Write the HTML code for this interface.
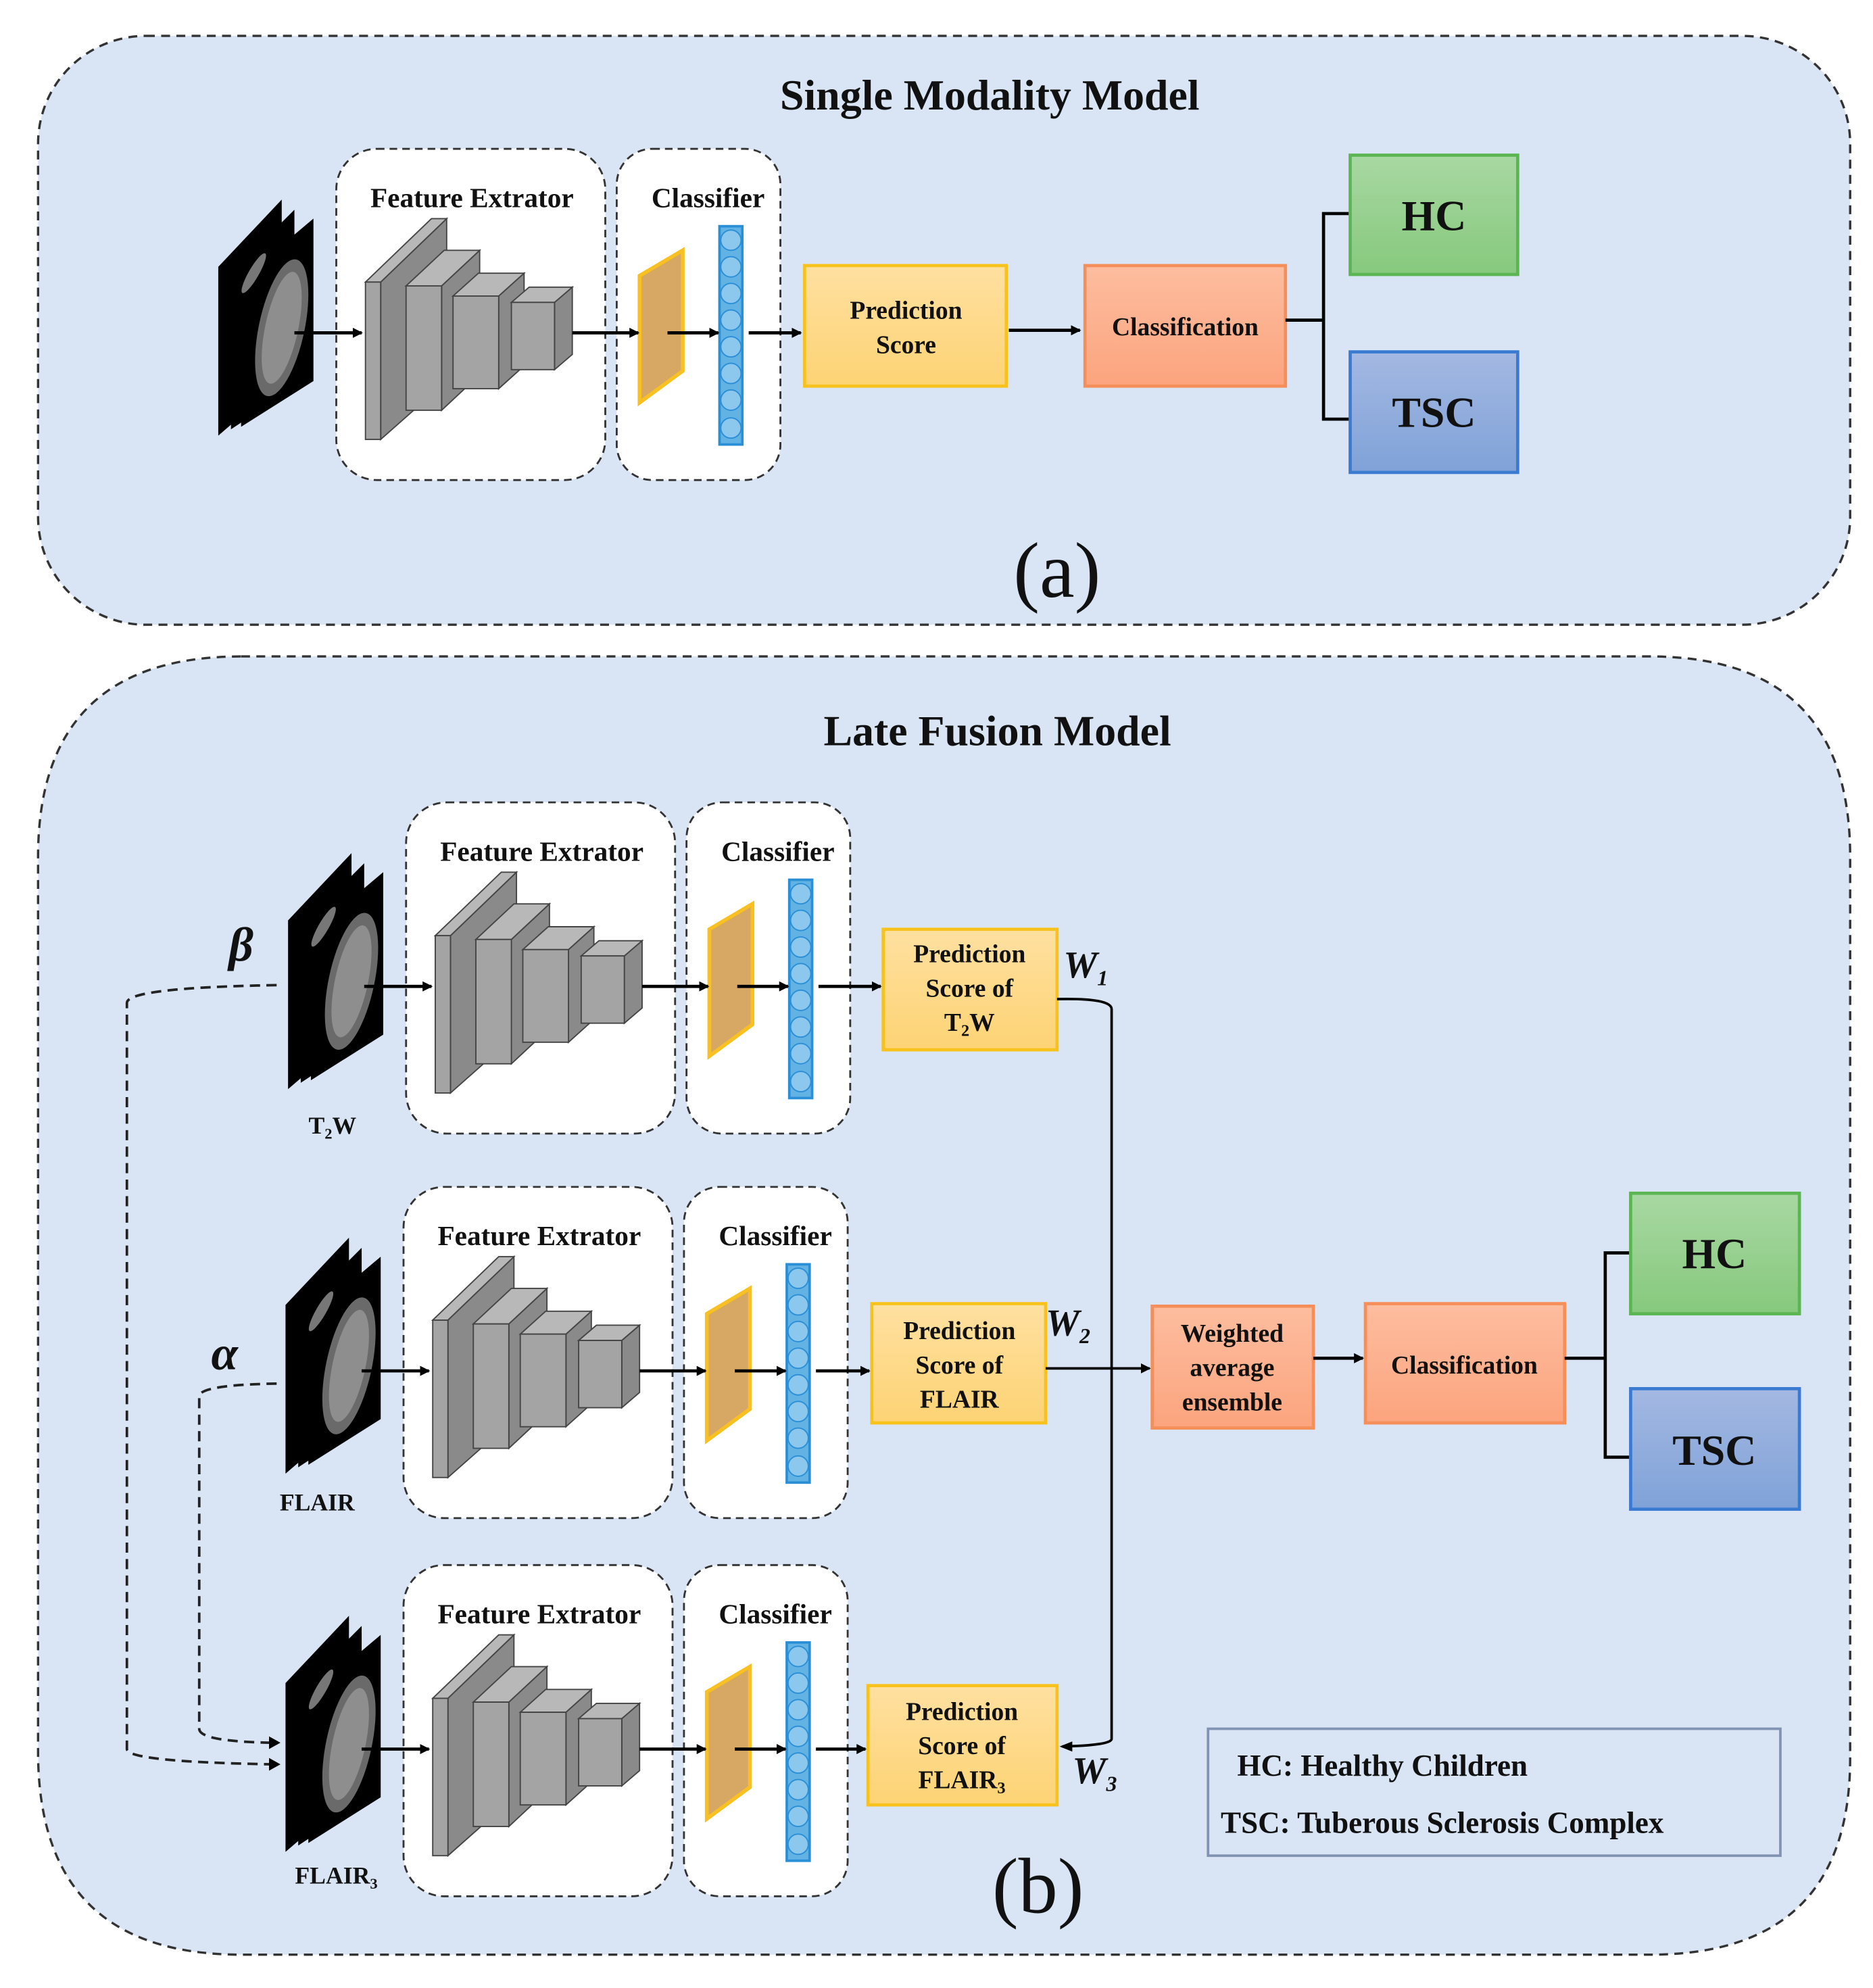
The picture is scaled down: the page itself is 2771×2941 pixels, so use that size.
<!DOCTYPE html>
<html><head><meta charset="utf-8"><style>
html,body{margin:0;padding:0;background:#fff;}
svg{display:block;}
text{font-family:"Liberation Serif",serif;font-weight:bold;fill:#111;}
</style></head><body>
<svg width="2771" height="2941" viewBox="0 0 1476 1566" xmlns="http://www.w3.org/2000/svg">
<defs>
<marker id="ah" markerWidth="8" markerHeight="8" refX="7" refY="4" orient="auto" markerUnits="userSpaceOnUse"><path d="M0,0 L8,4 L0,8 Z" fill="#000"/></marker>
<linearGradient id="gy" x1="0" y1="0" x2="0" y2="1"><stop offset="0" stop-color="#fee0a0"/><stop offset="1" stop-color="#fdd374"/></linearGradient>
<linearGradient id="go" x1="0" y1="0" x2="0" y2="1"><stop offset="0" stop-color="#fdbd9f"/><stop offset="1" stop-color="#fca47e"/></linearGradient>
<linearGradient id="gg" x1="0" y1="0" x2="0" y2="1"><stop offset="0" stop-color="#a8d8a2"/><stop offset="1" stop-color="#86c97d"/></linearGradient>
<linearGradient id="gb" x1="0" y1="0" x2="0" y2="1"><stop offset="0" stop-color="#a4b8e2"/><stop offset="1" stop-color="#7fa2d8"/></linearGradient>
<g id="row">
  <!-- MRI stack -->
  <polygon points="172,210 222,157 222,300 172,343" fill="#000"/>
  <polygon points="182,215 232,165 232,305 182,338" fill="#000"/>
  <polygon points="190,220 247,172 247,300 190,336" fill="#000"/>
  <ellipse cx="222" cy="258" rx="18" ry="55" fill="#6a6a6a" transform="rotate(12 222 258)"/>
  <ellipse cx="222" cy="258" rx="13" ry="45" fill="#8e8e8e" transform="rotate(12 222 258)"/>
  <ellipse cx="200" cy="215" rx="4" ry="18" fill="#777" transform="rotate(30 200 215)"/>
  <!-- FE box -->
  <rect x="265" y="117" width="212" height="261" rx="32" fill="#fff" stroke="#333" stroke-width="1.5" stroke-dasharray="6,4"/>
  <text x="372" y="163" font-size="22" text-anchor="middle">Feature Extrator</text>
  <!-- CNN -->
  <g stroke="#444" stroke-width="1">
   <polygon points="300,222 352,172 352,300 300,346" fill="#8a8a8a"/>
   <polygon points="288,222 340,172 352,172 300,222" fill="#b8b8b8"/>
   <rect x="288" y="222" width="12" height="124" fill="#a4a4a4"/>
   <polygon points="348,225 378,197 378,295 348,323" fill="#8a8a8a"/>
   <polygon points="320,225 350,197 378,197 348,225" fill="#b8b8b8"/>
   <rect x="320" y="225" width="28" height="98" fill="#a4a4a4"/>
   <polygon points="393,233 413,215 413,288 393,306" fill="#8a8a8a"/>
   <polygon points="357,233 377,215 413,215 393,233" fill="#b8b8b8"/>
   <rect x="357" y="233" width="36" height="73" fill="#a4a4a4"/>
   <polygon points="437,238 451,226 451,279 437,291" fill="#8a8a8a"/>
   <polygon points="403,238 417,226 451,226 437,238" fill="#b8b8b8"/>
   <rect x="403" y="238" width="34" height="53" fill="#a4a4a4"/>
  </g>
  <!-- Classifier box -->
  <rect x="486" y="117" width="129" height="261" rx="28" fill="#fff" stroke="#333" stroke-width="1.5" stroke-dasharray="6,4"/>
  <text x="558" y="163" font-size="22" text-anchor="middle">Classifier</text>
  <polygon points="504,217 538,197 538,292 504,317" fill="#d6a863" stroke="#f8c020" stroke-width="3"/>
  <rect x="567" y="178" width="18" height="172" fill="#62b2e4" stroke="#2a8fd6" stroke-width="2"/>
  <g fill="#8cc8ee" stroke="#2a8fd6" stroke-width="1">
   <circle cx="576" cy="189" r="8"/><circle cx="576" cy="210" r="8"/><circle cx="576" cy="231" r="8"/><circle cx="576" cy="252" r="8"/><circle cx="576" cy="273" r="8"/><circle cx="576" cy="294" r="8"/><circle cx="576" cy="315" r="8"/><circle cx="576" cy="337" r="8"/>
  </g>
  <g stroke="#000" stroke-width="2.5" marker-end="url(#ah)">
   <line x1="232" y1="262" x2="285" y2="262"/>
   <line x1="451" y1="262" x2="503" y2="262"/>
   <line x1="526" y1="262" x2="566" y2="262"/>
  </g>
</g>
</defs>

<!-- Panel a -->
<rect x="30" y="28" width="1428" height="464" rx="85" fill="#d9e5f4" stroke="#333" stroke-width="1.8" stroke-dasharray="7,5"/>
<text x="780" y="86" font-size="34" text-anchor="middle">Single Modality Model</text>
<use href="#row"/>
<line x1="590" y1="262" x2="631" y2="262" stroke="#000" stroke-width="2.5" marker-end="url(#ah)"/>
<rect x="634" y="209" width="159" height="95" fill="url(#gy)" stroke="#f8c21c" stroke-width="2.5"/>
<text x="714" y="251" font-size="20" text-anchor="middle">Prediction</text>
<text x="714" y="278" font-size="20" text-anchor="middle">Score</text>
<line x1="795" y1="260" x2="851" y2="260" stroke="#000" stroke-width="2.5" marker-end="url(#ah)"/>
<rect x="855" y="209" width="158" height="95" fill="url(#go)" stroke="#f58e58" stroke-width="2.5"/>
<text x="934" y="264" font-size="20" text-anchor="middle">Classification</text>
<polyline points="1013,252 1043,252" fill="none" stroke="#000" stroke-width="2.5"/>
<polyline points="1064,168 1043,168 1043,330 1064,330" fill="none" stroke="#000" stroke-width="2.5"/>
<rect x="1064" y="122" width="132" height="94" fill="url(#gg)" stroke="#5bb553" stroke-width="2.5"/>
<text x="1130" y="181" font-size="34" text-anchor="middle">HC</text>
<rect x="1064" y="277" width="132" height="95" fill="url(#gb)" stroke="#3a7ad0" stroke-width="2.5"/>
<text x="1130" y="336" font-size="34" text-anchor="middle">TSC</text>
<text x="833" y="470" font-size="62" text-anchor="middle" style="font-weight:normal">(a)</text>

<!-- Panel b -->
<path d="M190,517 H1300 Q1458,517 1458,675 V1385 Q1458,1540 1300,1540 H190 Q30,1540 30,1380 V675 Q30,517 190,517 Z" fill="#d9e5f4" stroke="#333" stroke-width="1.8" stroke-dasharray="7,5"/>
<text x="786" y="587" font-size="34" text-anchor="middle">Late Fusion Model</text>

<use href="#row" transform="translate(55,515)"/>
<use href="#row" transform="translate(53,818)"/>
<use href="#row" transform="translate(53,1116)"/>

<text x="262" y="893" font-size="19" text-anchor="middle">T<tspan font-size="12" dy="4">2</tspan><tspan dy="-4">W</tspan></text>
<text x="250" y="1190" font-size="19" text-anchor="middle">FLAIR</text>
<text x="265" y="1484" font-size="19" text-anchor="middle">FLAIR<tspan font-size="12" dy="4">3</tspan></text>

<g stroke="#000" stroke-width="2.5" marker-end="url(#ah)">
 <line x1="645" y1="777" x2="694" y2="777"/>
 <line x1="643" y1="1080" x2="685" y2="1080"/>
 <line x1="643" y1="1378" x2="682" y2="1378"/>
</g>

<rect x="696" y="732" width="137" height="95" fill="url(#gy)" stroke="#f8c21c" stroke-width="2.5"/>
<text x="764" y="758" font-size="20" text-anchor="middle">Prediction</text>
<text x="764" y="785" font-size="20" text-anchor="middle">Score of</text>
<text x="764" y="812" font-size="20" text-anchor="middle">T<tspan font-size="13" dy="4">2</tspan><tspan dy="-4">W</tspan></text>

<rect x="687" y="1027" width="137" height="94" fill="url(#gy)" stroke="#f8c21c" stroke-width="2.5"/>
<text x="756" y="1055" font-size="20" text-anchor="middle">Prediction</text>
<text x="756" y="1082" font-size="20" text-anchor="middle">Score of</text>
<text x="756" y="1109" font-size="20" text-anchor="middle">FLAIR</text>

<rect x="684" y="1328" width="149" height="94" fill="url(#gy)" stroke="#f8c21c" stroke-width="2.5"/>
<text x="758" y="1355" font-size="20" text-anchor="middle">Prediction</text>
<text x="758" y="1382" font-size="20" text-anchor="middle">Score of</text>
<text x="758" y="1409" font-size="20" text-anchor="middle">FLAIR<tspan font-size="13" dy="4">3</tspan></text>

<text x="838" y="770" font-size="30" font-style="italic">W<tspan font-size="17" dy="6">1</tspan></text>
<text x="824" y="1052" font-size="30" font-style="italic">W<tspan font-size="17" dy="6">2</tspan></text>
<text x="845" y="1405" font-size="30" font-style="italic">W<tspan font-size="17" dy="6">3</tspan></text>

<path d="M833,787 Q876,786 876,795 V1370 Q876,1375 837,1376" fill="none" stroke="#000" stroke-width="2"/>
<path d="M845,1372 L835,1376 L845,1380 Z" fill="#000"/>
<line x1="824" y1="1078" x2="906" y2="1078" stroke="#000" stroke-width="2" marker-end="url(#ah)"/>

<rect x="908" y="1029" width="127" height="96" fill="url(#go)" stroke="#f58e58" stroke-width="2.5"/>
<text x="971" y="1057" font-size="20" text-anchor="middle">Weighted</text>
<text x="971" y="1084" font-size="20" text-anchor="middle">average</text>
<text x="971" y="1111" font-size="20" text-anchor="middle">ensemble</text>
<line x1="1035" y1="1070" x2="1074" y2="1070" stroke="#000" stroke-width="2.5" marker-end="url(#ah)"/>
<rect x="1076" y="1027" width="157" height="94" fill="url(#go)" stroke="#f58e58" stroke-width="2.5"/>
<text x="1154" y="1082" font-size="20" text-anchor="middle">Classification</text>
<polyline points="1233,1070 1265,1070" fill="none" stroke="#000" stroke-width="2.5"/>
<polyline points="1285,987 1265,987 1265,1148 1285,1148" fill="none" stroke="#000" stroke-width="2.5"/>
<rect x="1285" y="940" width="133" height="95" fill="url(#gg)" stroke="#5bb553" stroke-width="2.5"/>
<text x="1351" y="999" font-size="34" text-anchor="middle">HC</text>
<rect x="1285" y="1094" width="133" height="95" fill="url(#gb)" stroke="#3a7ad0" stroke-width="2.5"/>
<text x="1351" y="1154" font-size="34" text-anchor="middle">TSC</text>

<!-- dashed alpha/beta -->
<g fill="none" stroke="#222" stroke-width="2" stroke-dasharray="8,5">
 <path d="M218,776 Q100,778 100,790 V1378 Q100,1388 214,1390"/>
 <path d="M218,1090 Q157,1091 157,1100 V1362 Q157,1372 214,1373"/>
</g>
<path d="M212,1385 L221,1390 L212,1395 Z" fill="#000"/>
<path d="M212,1368 L221,1373 L212,1378 Z" fill="#000"/>
<text x="190" y="757" font-size="38" font-style="italic" text-anchor="middle">β</text>
<text x="177" y="1079" font-size="38" font-style="italic" text-anchor="middle">α</text>

<rect x="952" y="1362" width="451" height="100" fill="#d9e5f4" stroke="#8193b3" stroke-width="2"/>
<text x="975" y="1399" font-size="24">HC: Healthy Children</text>
<text x="962" y="1444" font-size="24">TSC: Tuberous Sclerosis Complex</text>

<text x="818" y="1507" font-size="62" text-anchor="middle" style="font-weight:normal">(b)</text>
</svg>
</body></html>
